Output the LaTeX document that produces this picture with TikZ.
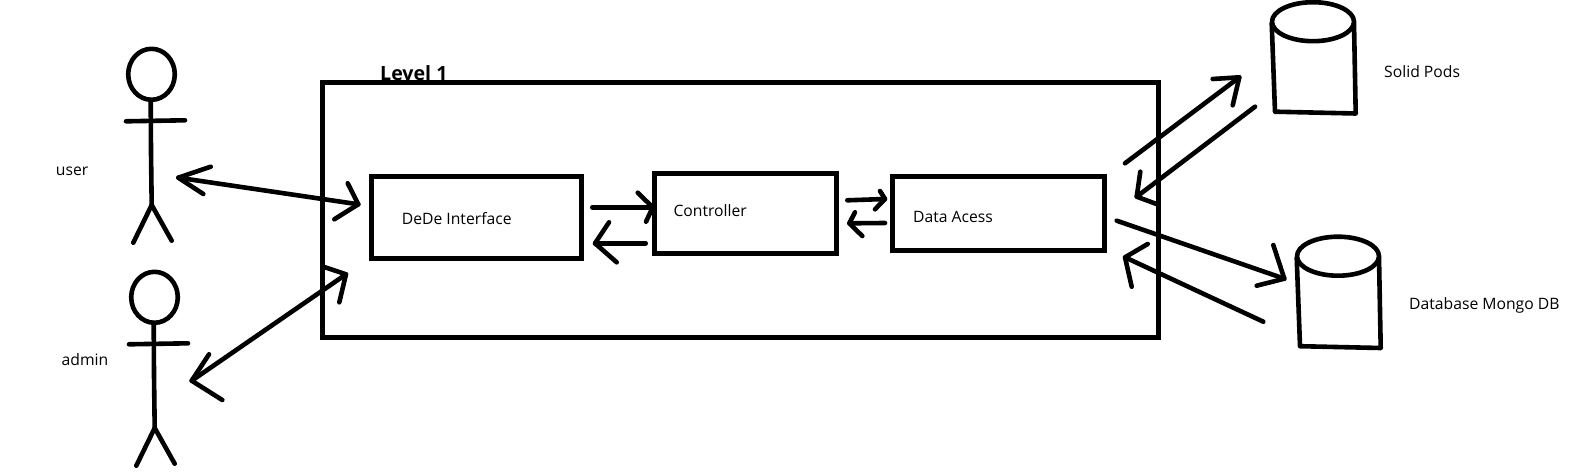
\documentclass[tikz,border=0pt]{standalone}
\usepackage{fontspec}
\setmainfont{Open Sans}
\usetikzlibrary{calc}
\tikzset{
    pen/.style={line width=4.6pt,line cap=round,line join=round},
    blockbox/.style={draw,line width=5pt,inner sep=0pt,line join=miter},
    lbl/.style={anchor=west,inner sep=0pt,font=\fontsize{15.7}{18}\selectfont}
}
\begin{document}
\begin{tikzpicture}[x=1pt,y=-1pt]
            \useasboundingbox (0,0) rectangle (1594,473);
            \node [anchor=base west,inner sep=0pt,font=\fontsize{19.6}{22}\bfseries\selectfont] (level) at (380,80.5) {Level 1}; %the frame runs over its lower edge
            \node [blockbox,minimum width=836,minimum height=255] (frame) at (740.7,209.8) {};
            \node [blockbox,minimum width=210,minimum height=81.6] (dede) at (476.7,217.5) {};
            \node [blockbox,minimum width=181.7,minimum height=80] (ctrl) at (745.8,213.3) {};
            \node [blockbox,minimum width=211.7,minimum height=74] (data) at (998.2,213.7) {};

            \foreach \sx/\sy in {0/0,3/223}{ %two stick figures
                \begin{scope}[shift={(\sx,\sy)}]
                    \draw [pen] (151.5,74.3) ellipse [x radius=23.3,y radius=25.5];
                    \draw [pen] (126,121.3) -- (185,120.3);
                    \draw [pen] (150.7,100) -- (151,152) -- (151.7,205);
                    \draw [pen] (133.3,242.7) -- (151.7,205) -- (171.7,240.7);
                \end{scope}
            }
            \foreach \sx/\sy in {0/0,25/234.5}{ %two cylinders
                \begin{scope}[shift={(\sx,\sy)}]
                    \draw [pen] (1313,21.7) ellipse [x radius=41,y radius=19.5];
                    \draw [pen] (1271.7,23.3) -- (1275,111.7) -- (1355.7,113.5) -- (1354,23.3);
                \end{scope}
            }

            \node [lbl] (user) at (55.7,171) {user};
            \node [lbl] (admin) at (61.5,359.5) {admin};
            \node [lbl] (dedetxt) at (401.7,218.2) {DeDe Interface};
            \node [lbl] (ctrltxt) at (673.3,211) {Controller};
            \node [lbl] (datatxt) at (913,216.5) {Data Acess};
            \node [lbl] (solid) at (1384,72) {Solid Pods};
            \node [lbl] (mongo) at (1409,305) {Database Mongo DB};

            \coordinate (userR) at (178.3,177.7);
            \coordinate (dedeL) at (358.3,204.3);
            \coordinate (adminR) at (191.7,380.7);
            \coordinate (frameL) at (346,274.3);
            \coordinate (dedeR) at (592.3,207.3);
            \coordinate (ctrlL) at (652.7,207.3);
            \coordinate (ctrlLb) at (645.7,243.3);
            \coordinate (dedeRb) at (595,243.3);
            \coordinate (ctrlR) at (847.3,200.3);
            \coordinate (dataL) at (885,199);
            \coordinate (dataLb) at (885,223);
            \coordinate (ctrlRb) at (849.3,223.3);
            \coordinate (dataUp) at (1125,163.3);
            \coordinate (solidIn) at (1239.3,77.3);
            \coordinate (solidOut) at (1255,106.7);
            \coordinate (dataUpb) at (1136.7,196.7);
            \coordinate (dataDn) at (1116.7,220.7);
            \coordinate (mongoIn) at (1284.3,278.7);
            \coordinate (mongoOut) at (1263.3,321.7);
            \coordinate (dataDnb) at (1125,257.3);

            \foreach \a/\b in {userR/dedeL,adminR/frameL,dedeR/ctrlL,ctrlLb/dedeRb,ctrlR/dataL,dataLb/ctrlRb,dataUp/solidIn,solidOut/dataUpb,dataDn/mongoIn,mongoOut/dataDnb}{
                \draw [pen] (\a) -- (\b);
            }
            \foreach \t/\p/\q in { %barbs of each hand drawn head
                userR/{210.7,166.7}/{203.3,194},
                dedeL/{347.7,183.3}/{334.3,219.3},
                adminR/{209,354.3}/{222.3,400},
                frameL/{325,267.3}/{339.3,302.3},
                ctrlL/{637.7,192.7}/{646,221.7},
                dedeRb/{609,222.3}/{616.7,262.3},
                dataL/{880,191}/{875,209.3},
                ctrlRb/{855,212.3}/{862.3,236},
                solidIn/{1212.7,79}/{1232.7,105.3},
                dataUpb/{1140.3,171.7}/{1157.3,204.3},
                mongoIn/{1273.3,245}/{1256.7,285.7},
                dataDnb/{1147.7,244}/{1131.7,286.7}}{
                \draw [pen] (\p) -- (\t) -- (\q);
            }
\end{tikzpicture}
\end{document}
